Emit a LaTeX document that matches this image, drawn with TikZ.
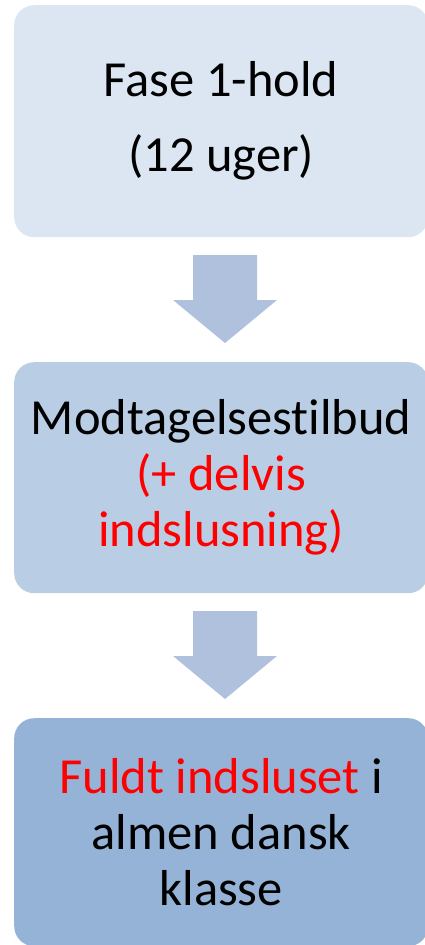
\documentclass[tikz,border=0pt]{standalone}
\usepackage{fontspec}
\setmainfont[Ligatures=NoCommon]{Carlito}
\definecolor{boxA}{HTML}{DCE6F2}
\definecolor{boxB}{HTML}{B9CDE5}
\definecolor{boxC}{HTML}{95B3D7}
\definecolor{arrowc}{HTML}{B0C1DD}
\definecolor{redtxt}{HTML}{FF0000}
\begin{document}
\begin{tikzpicture}[x=1pt,y=-1pt,
  stagebox/.style={rectangle, rounded corners=20pt, minimum width=414pt, inner sep=0pt, align=center, anchor=north west},
  blockarrow/.style={fill=arrowc, draw=none}]
\useasboundingbox (0,0) rectangle (425,945);
\node[stagebox, fill=boxA, minimum height=232pt, font=\fontsize{50.5}{75}\selectfont] (b1) at (14,5) {Fase 1-hold\\(12 uger)};
\node[stagebox, fill=boxB, minimum height=231pt, font=\fontsize{50.5}{56}\selectfont] (b2) at (14,362) {Modtagelsestilbud\\\textcolor{redtxt}{(+ delvis}\\\textcolor{redtxt}{indslusning)}};
\node[stagebox, fill=boxC, minimum height=228pt, font=\fontsize{50.5}{56}\selectfont] (b3) at (14,718) {\textcolor{redtxt}{Fuldt indsluset} i\\almen dansk\\klasse};
\coordinate (a1) at (225,255);
\coordinate (a2) at (225,611);
\foreach \a in {a1,a2}{
  \fill[blockarrow] (\a) ++(-32,0) -- ++(64,0) -- ++(0,45) -- ++(20,0) -- ++(-52,43) -- ++(-52,-43) -- ++(20,0) -- cycle;
}
\end{tikzpicture}
\end{document}
